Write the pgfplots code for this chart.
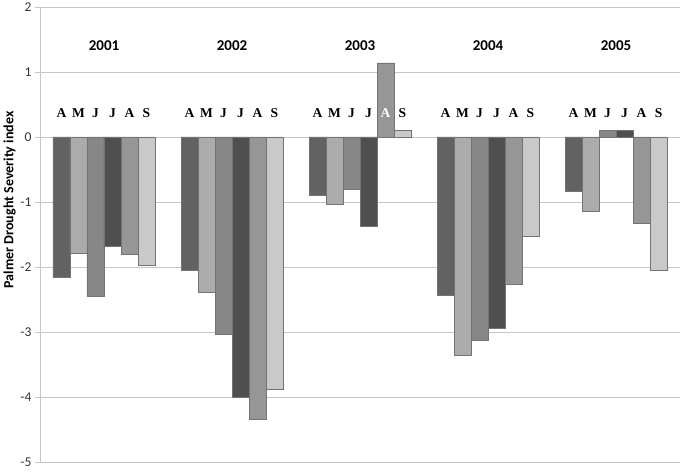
\documentclass[border=0pt]{standalone}
\usepackage{pgfplots}
\pgfplotsset{compat=1.18}
\usepackage{fontspec}
\setmainfont{Carlito}
\newfontfamily\timesbf{Liberation Serif}[BoldFont={Liberation Serif Bold}]
\definecolor{barA}{HTML}{626262}
\definecolor{barM}{HTML}{ABABAB}
\definecolor{barJ}{HTML}{878787}
\definecolor{barJJ}{HTML}{4F4F4F}
\definecolor{barAu}{HTML}{969696}
\definecolor{barS}{HTML}{C9C9C9}
\definecolor{gridgray}{HTML}{C6C6C6}

% x = year index (0 = 2001 ... 4 = 2005), one table column per month
\pgfplotstableread{
x  apr   may   jun   jul   aug   sep
0 -2.16 -1.79 -2.45 -1.68 -1.81 -1.98
1 -2.05 -2.39 -3.04 -4.01 -4.35 -3.88
2 -0.89 -1.04 -0.80 -1.37  1.14  0.10
3 -2.43 -3.36 -3.13 -2.94 -2.27 -1.52
4 -0.84 -1.15  0.10  0.10 -1.32 -2.05
}\pdsi

\newcommand{\months}[1][black]{\timesbf\bfseries
  \makebox[17pt]{A}\makebox[17pt]{M}\makebox[17pt]{J}\makebox[17pt]{J}%
  \makebox[17pt]{\textcolor{#1}{A}}\makebox[17pt]{S}}

\begin{document}
\begin{tikzpicture}
\begin{axis}[
  scale only axis, width=640pt, height=455pt,
  ybar=0pt, bar width=17pt,
  xmin=-0.5, xmax=4.5, ymin=-5, ymax=2,
  xtick=\empty,
  ytick={-5,...,2},
  axis x line=none, axis y line*=left,
  y axis line style={draw=gridgray, line width=0.8pt, -},
  ymajorgrids, grid style={gridgray, line width=0.8pt},
  major tick length=5pt, tick align=outside,
  y tick style={gridgray, line width=0.8pt},
  /pgf/number format/assume math mode=true,
  tick label style={font=\fontsize{13.5}{13.5}\selectfont, text=black!80},
  ylabel={\bfseries Palmer Drought Severity index},
  ylabel style={font=\fontsize{14}{14}\selectfont, at={(ticklabel cs:0.576)}, yshift=-2pt},
  every axis plot/.append style={draw=black!55, line width=0.5pt},
  clip=false,
]
\addplot[fill=barA]  table[x=x, y=apr] {\pdsi};
\addplot[fill=barM]  table[x=x, y=may] {\pdsi};
\addplot[fill=barJ]  table[x=x, y=jun] {\pdsi};
\addplot[fill=barJJ] table[x=x, y=jul] {\pdsi};
\addplot[fill=barAu] table[x=x, y=aug] {\pdsi};
\addplot[fill=barS]  table[x=x, y=sep] {\pdsi};

\pgfplotsinvokeforeach{0,1,3,4}{
  \node[font=\fontsize{13.5}{13.5}\selectfont] at (axis cs:#1,0.37) {\months};
}
\node[font=\fontsize{13.5}{13.5}\selectfont] at (axis cs:2,0.37) {\months[white]};

\node[font=\fontsize{15}{15}\selectfont\bfseries] at (axis cs:0,1.4) {2001};
\node[font=\fontsize{15}{15}\selectfont\bfseries] at (axis cs:1,1.4) {2002};
\node[font=\fontsize{15}{15}\selectfont\bfseries] at (axis cs:2,1.4) {2003};
\node[font=\fontsize{15}{15}\selectfont\bfseries] at (axis cs:3,1.4) {2004};
\node[font=\fontsize{15}{15}\selectfont\bfseries] at (axis cs:4,1.4) {2005};

\coordinate (sw) at (rel axis cs:0,0);
\coordinate (ne) at (rel axis cs:1,1);
\end{axis}
\pgfresetboundingbox
\path ([shift={(-40pt,-10pt)}]sw) rectangle ([shift={(3pt,7pt)}]ne);
\end{tikzpicture}
\end{document}
